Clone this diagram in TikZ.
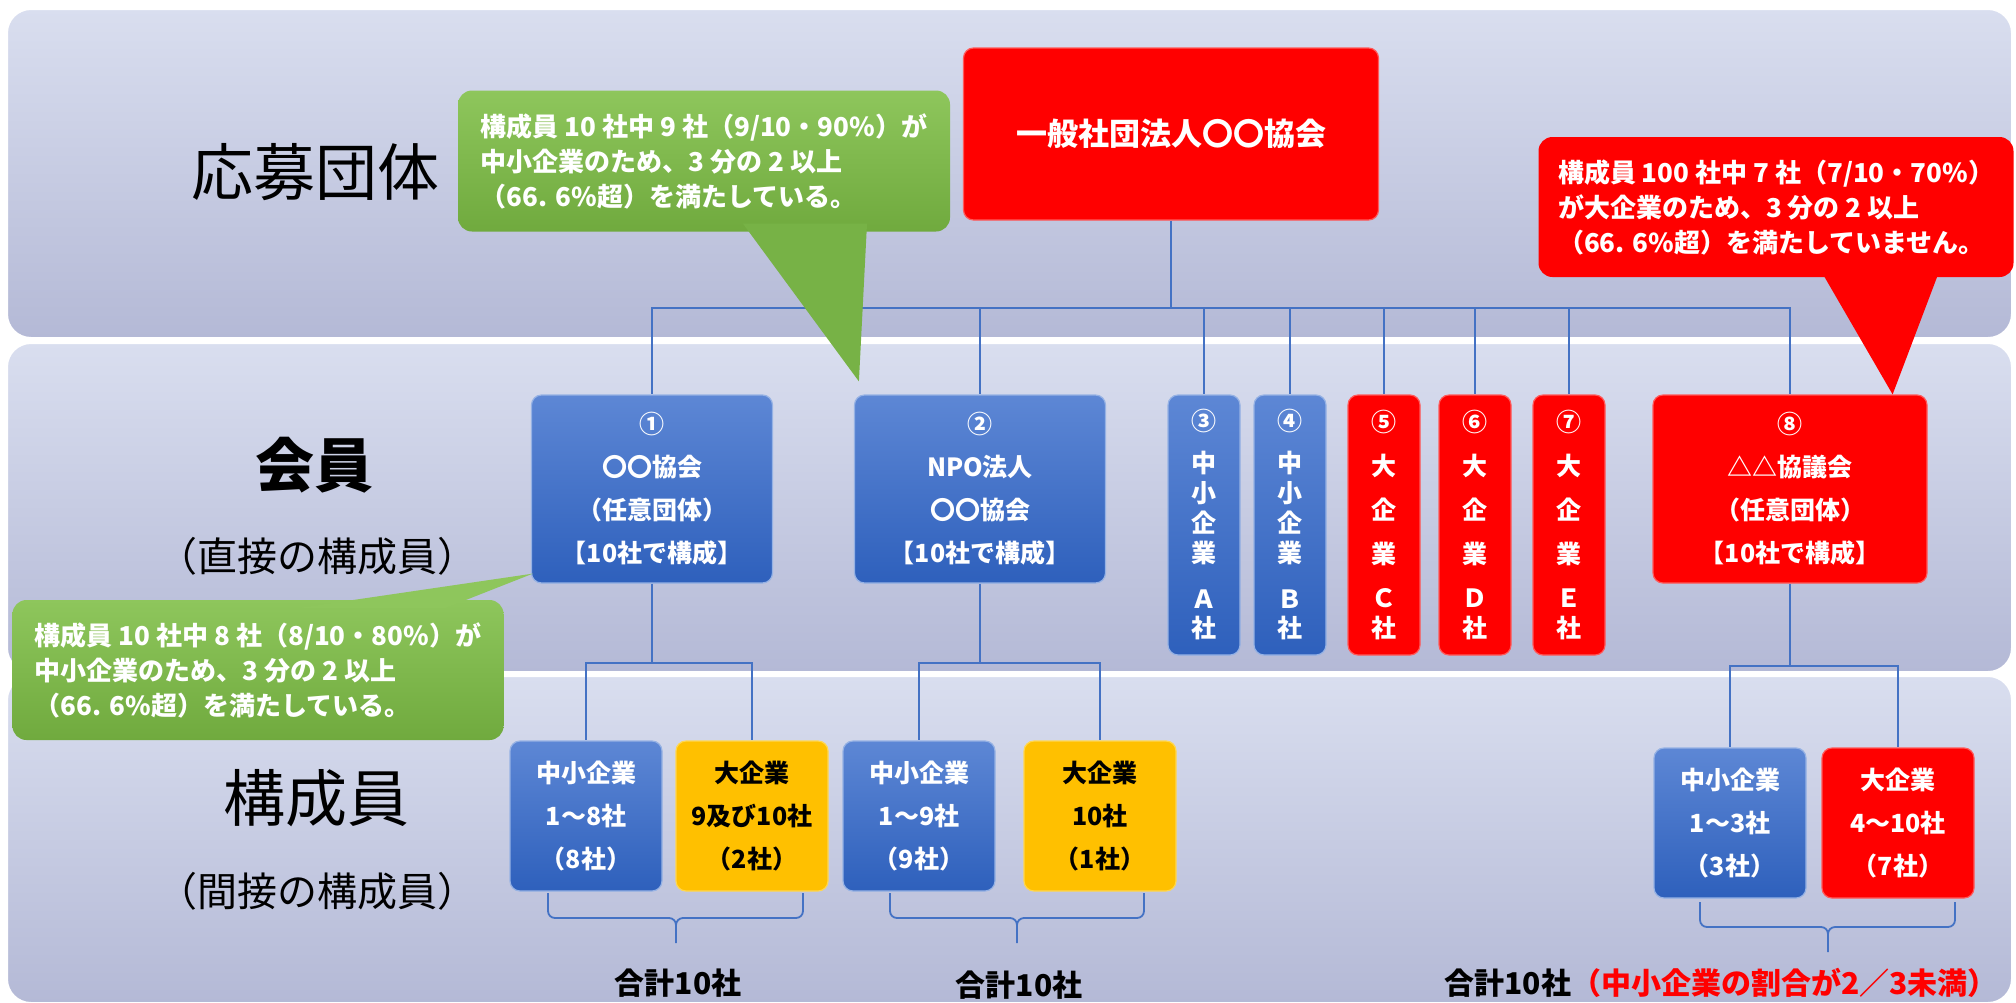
\documentclass[tikz,border=0pt]{standalone}
\usepackage{fontspec}
\setmainfont{Noto Sans CJK JP}
\usetikzlibrary{calc}
\definecolor{lineblue}{RGB}{68,114,196}
\definecolor{bandtop}{RGB}{217,222,239}
\definecolor{bandbot}{RGB}{180,185,214}
\definecolor{blueA}{RGB}{93,135,213}
\definecolor{blueB}{RGB}{46,96,188}
\definecolor{blueE}{RGB}{150,178,228}
\definecolor{redE}{RGB}{255,90,90}
\definecolor{boxyellow}{RGB}{255,192,0}
\definecolor{yelE}{RGB}{255,215,80}
\definecolor{greenA}{RGB}{142,198,92}
\definecolor{greenB}{RGB}{112,170,62}
\definecolor{callgreen}{RGB}{119,178,70}

\begin{document}
\begin{tikzpicture}[x=1pt,y=-1pt,
	band/.style={rounded corners=24pt,top color=bandtop,bottom color=bandbot,draw=white,line width=2pt},
	tier/.style={font=\fontsize{62}{62}\selectfont},
	subtier/.style={font=\fontsize{40}{40}\selectfont},
	conn/.style={draw=lineblue,line width=2.2pt},
	org/.style={rounded corners=10pt,align=center,text=white,inner sep=0pt,font=\bfseries\fontsize{25}{43}\selectfont},
	blueorg/.style={org,top color=blueA,bottom color=blueB,draw=blueE,line width=1.2pt},
	redorg/.style={org,fill=red,draw=redE,line width=1.2pt},
	yelorg/.style={org,fill=boxyellow,draw=yelE,line width=1.2pt,text=black},
	slim/.style={minimum width=72pt,minimum height=260pt},
	wide/.style={minimum height=188pt},
	sub/.style={minimum width=152pt,minimum height=150pt},
	callout/.style={rounded corners=14pt,align=left,text=white,inner sep=0pt,font=\bfseries\fontsize{26}{35}\selectfont},
	total/.style={font=\bfseries\fontsize{30}{30}\selectfont}]
	\useasboundingbox (0,0) rectangle (2016,1002);
	\path[band] (7,9) rectangle (2012,338);
	\path[band] (7,343) rectangle (2012,672);
	\path[band] (7,676) rectangle (2012,1003);

	\node[tier] (lv1) at (315,172) {応募団体};
	\node[tier,font=\bfseries\fontsize{59}{59}\selectfont] (lv2) at (314,465) {会員};
	\node[subtier] (lv2b) at (317,556) {（直接の構成員）};
	\node[tier] (lv3) at (316,798) {構成員};
	\node[subtier] (lv3b) at (317,891) {（間接の構成員）};

	\node[redorg,minimum width=415pt,minimum height=172pt,font=\bfseries\fontsize{31}{31}\selectfont] (top) at (1171,134) {一般社団法人〇〇協会};

	\node[blueorg,wide,minimum width=241pt] (m1) at (652,489) {①\\〇〇協会\\（任意団体）\\【10社で構成】};
	\node[blueorg,wide,minimum width=251pt] (m2) at (980,489) {②\\NPO法人\\〇〇協会\\【10社で構成】};
	\node[blueorg,slim,font=\bfseries\fontsize{25}{30}\selectfont] (m3) at (1204,525) {③\\[12pt]中\\小\\企\\業\\[16pt]Ａ\\[-1pt]社};
	\node[blueorg,slim,font=\bfseries\fontsize{25}{30}\selectfont] (m4) at (1290,525) {④\\[12pt]中\\小\\企\\業\\[16pt]Ｂ\\[-1pt]社};
	\node[redorg,slim,font=\bfseries\fontsize{25}{44}\selectfont] (m5) at (1384,525) {⑤\\大\\企\\業\\Ｃ\\[-14pt]社};
	\node[redorg,slim,font=\bfseries\fontsize{25}{44}\selectfont] (m6) at (1475,525) {⑥\\大\\企\\業\\Ｄ\\[-14pt]社};
	\node[redorg,slim,font=\bfseries\fontsize{25}{44}\selectfont] (m7) at (1569,525) {⑦\\大\\企\\業\\Ｅ\\[-14pt]社};
	\node[redorg,wide,minimum width=274pt] (m8) at (1790,489) {⑧\\△△協議会\\（任意団体）\\【10社で構成】};

	\node[blueorg,sub] (s1) at (586,816) {中小企業\\1～8社\\（8社）};
	\node[yelorg,sub] (s2) at (752,816) {大企業\\9及び10社\\（2社）};
	\node[blueorg,sub] (s3) at (919,816) {中小企業\\1～9社\\（9社）};
	\node[yelorg,sub] (s4) at (1100,816) {大企業\\10社\\（1社）};
	\node[blueorg,sub] (s5) at (1730,823) {中小企業\\1～3社\\（3社）};
	\node[redorg,sub] (s6) at (1898,823) {大企業\\4～10社\\（7社）};

	\coordinate (bus) at ($(top.south)+(0,87)$);
	\draw[conn] (top.south) -- (bus) (bus) -| (m1.north) (bus) -| (m2.north) (bus) -| (m3.north) (bus) -| (m4.north);
	\draw[conn] (bus) -| (m5.north) (bus) -| (m6.north) (bus) -| (m7.north) (bus) -| (m8.north);
	\draw[conn] (m1.south) -- ++(0,79) -| (s1.north) (m1.south) -- ++(0,79) -| (s2.north);
	\draw[conn] (m2.south) -- ++(0,79) -| (s3.north) (m2.south) -- ++(0,79) -| (s4.north);
	\draw[conn] (m8.south) -- ++(0,82) -| (s5.north) (m8.south) -- ++(0,82) -| (s6.north);

	\draw[conn,line width=1.8pt,rounded corners=7pt] (548,893) -- (548,918) -- (676,918) -- (676,943) (803,893) -- (803,918) -- (676,918) -- (676,943);
	\draw[conn,line width=1.8pt,rounded corners=7pt] (890,893) -- (890,918) -- (1017,918) -- (1017,943) (1144,893) -- (1144,918) -- (1017,918) -- (1017,943);
	\draw[conn,line width=1.8pt,rounded corners=7pt] (1700,902) -- (1700,927) -- (1828,927) -- (1828,952) (1955,902) -- (1955,927) -- (1828,927) -- (1828,952);
	\node[total] (t1) at (678,983) {合計10社};
	\node[total] (t2) at (1019,985) {合計10社};
	\node[total,anchor=west] (t3) at (1441,983) {合計10社\textcolor{red}{（中小企業の割合が2／3未満）}};

	\node[callout,top color=greenA,bottom color=greenB,minimum width=492pt,minimum height=141pt] (c1) at (704,161) {構成員 10 社中 9 社（9/10・90\%）が\\中小企業のため、3 分の 2 以上\\（66. 6\%超）を満たしている。};
	\fill[callgreen] ($(c1.south)+(39,-8)$) -- ($(m2.north west)+(5,-13)$) -- ($(c1.south)+(163,-8)$) -- cycle;
	\node[callout,top color=greenA,bottom color=greenB,minimum width=491pt,minimum height=140pt] (c2) at (258,670) {構成員 10 社中 8 社（8/10・80\%）が\\中小企業のため、3 分の 2 以上\\（66. 6\%超）を満たしている。};
	\fill[greenA] ($(c2.north)+(42,8)$) -- ($(m1.south west)+(2,-10)$) -- ($(c2.north)+(188,8)$) -- cycle;
	\node[callout,fill=red,minimum width=475pt,minimum height=140pt] (c3) at (1776,207) {構成員 100 社中 7 社（7/10・70\%）\\が大企業のため、3 分の 2 以上\\（66. 6\%超）を満たしていません。};
	\fill[red] ($(c3.south)+(44,-8)$) -- ($(m8.north east)+(-35,0)$) -- ($(c3.south)+(164,-8)$) -- cycle;
\end{tikzpicture}
\end{document}
